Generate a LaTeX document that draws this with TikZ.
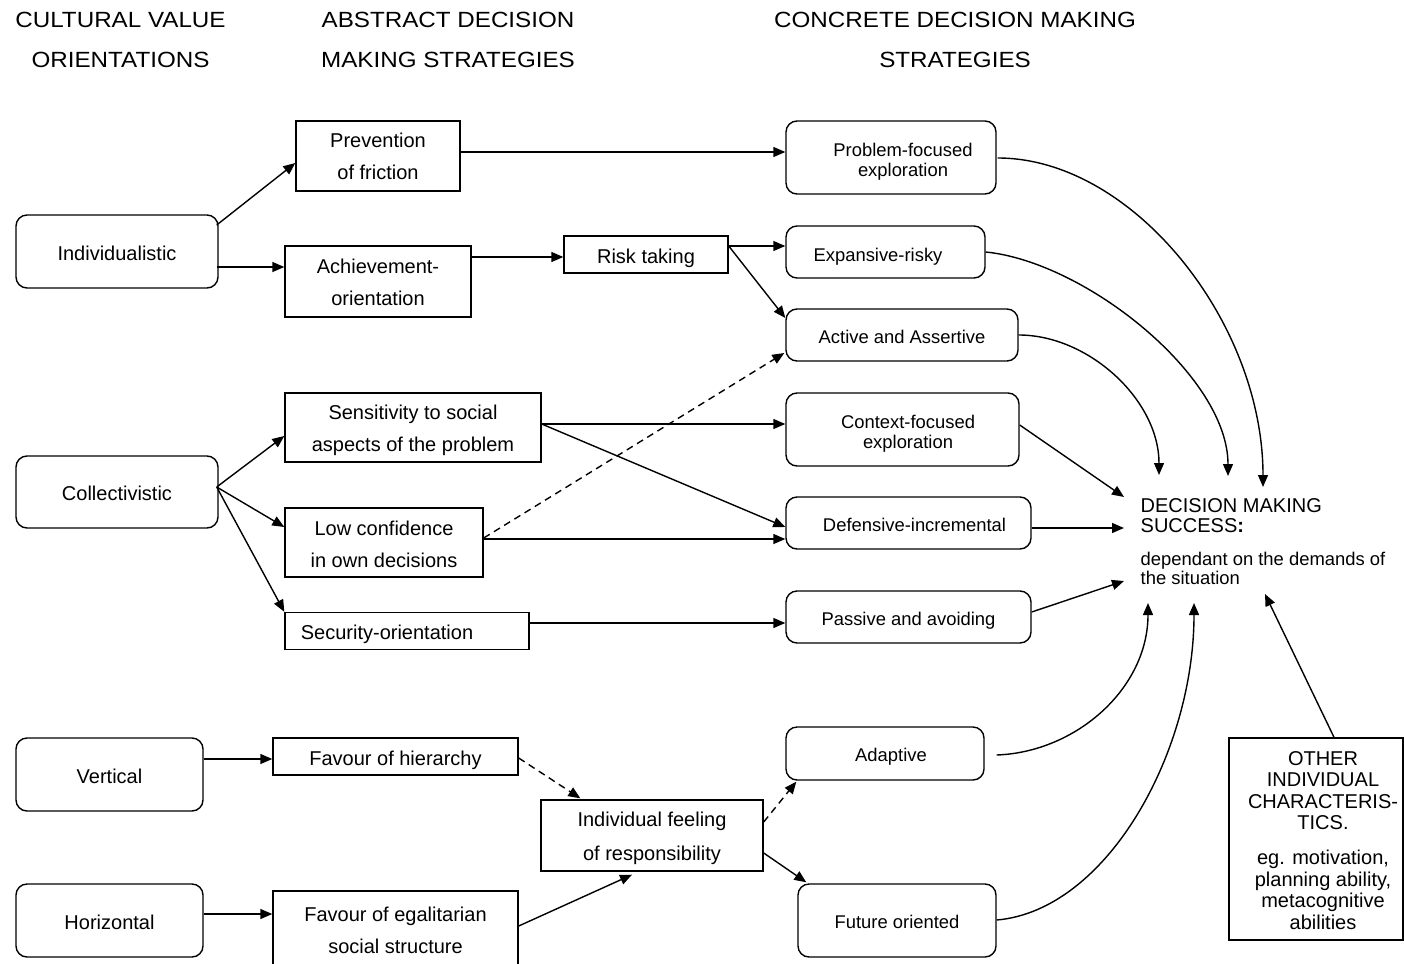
\documentclass[tikz,border=0pt]{standalone}
\usepackage{fontspec}
\setmainfont{Liberation Sans}
\newfontfamily\hdfont[FakeStretch=1.1]{Liberation Sans}
\usetikzlibrary{arrows.meta,calc}
\begin{document}
\begin{tikzpicture}[x=1pt,y=-1pt,
  line width=1.4pt,
  >={Triangle[length=12pt,width=10pt]},
  rbox/.style={draw, rounded corners=11pt, inner sep=0pt, line width=1.4pt},
  sbox/.style={draw, inner sep=0pt, line width=1.4pt},
  ft/.style={font=\fontsize{20pt}{32pt}\selectfont, align=center, inner sep=0pt},
  fs/.style={font=\fontsize{18.4pt}{20pt}\selectfont, align=center, inner sep=0pt},
  one/.style={text height=17.3pt, text depth=0pt},
  ones/.style={text height=16.2pt, text depth=0pt},
  hd/.style={font=\hdfont\fontsize{22pt}{40pt}\selectfont, align=center, inner sep=0pt},
  conn/.style={->, line width=1.4pt},
  dconn/.style={->, line width=1.4pt, dash pattern=on 7pt off 5pt},
]
\useasboundingbox (0,0) rectangle (1404,963);

% headers
\node[hd] (h1) at (120.5,40) {CULTURAL VALUE\\ORIENTATIONS};
\node[hd] (h2) at (448,40) {ABSTRACT DECISION\\MAKING STRATEGIES};
\node[hd] (h3) at (955,40) {CONCRETE DECISION MAKING\\STRATEGIES};

% cultural value orientations
\node[rbox, ft, one, minimum width=202pt, minimum height=73pt] (ind) at (117,251.5) {Individualistic};
\node[rbox, ft, one, minimum width=202pt, minimum height=72pt] (col) at (117,492) {Collectivistic};
\node[rbox, ft, one, minimum width=187pt, minimum height=73pt] (ver) at (109.5,774.5) {Vertical};
\node[rbox, ft, one, minimum width=187pt, minimum height=73pt] (hor) at (109.5,920.5) {Horizontal};

% abstract strategies
\node[sbox, ft, minimum width=164pt, minimum height=70pt] (prev) at (378,156) {Prevention\\of friction};
\node[sbox, minimum width=186pt, minimum height=71pt] (ach) at (378,281.5) {};
\node[ft] (ach-t) at (378,282.5) {Achievement-\\orientation};
\node[sbox, ft, one, minimum width=164pt, minimum height=37pt] (risk) at (646,254.5) {Risk taking};
\node[sbox, minimum width=256pt, minimum height=69pt] (sens) at (413,427.5) {};
\node[ft] (sens-t) at (413,430.5) {Sensitivity to social\\aspects of the problem};
\node[sbox, minimum width=198pt, minimum height=69pt] (low) at (384,542.5) {};
\node[ft] (low-t) at (384,544) {Low confidence\\in own decisions};
\node[sbox, minimum width=244pt, minimum height=37pt] (sec) at (407,631) {};
\node[ft, one] (sec-t) at (387,631) {Security-orientation};
\node[sbox, ft, one, minimum width=245pt, minimum height=37pt] (hier) at (395.5,756.5) {Favour of hierarchy};
\node[sbox, minimum width=245pt, minimum height=76pt] (egal) at (395.5,929) {};
\node[ft] (egal-t) at (395.5,930) {Favour of egalitarian\\social structure};
\node[sbox, minimum width=222pt, minimum height=71pt] (feel) at (652,835.5) {};
\node[ft, font=\fontsize{20pt}{34pt}\selectfont] (feel-t) at (652,838) {Individual feeling\\of responsibility};

% concrete strategies
\node[rbox, minimum width=210pt, minimum height=73pt] (pfe) at (891,157.5) {};
\node[fs] (pfe-t) at (903,161.5) {Problem-focused\\exploration};
\node[rbox, minimum width=199pt, minimum height=52pt] (exp) at (885.5,252) {};
\node[fs, ones] (exp-t) at (878,253) {Expansive-risky};
\node[rbox, fs, ones, minimum width=232pt, minimum height=52pt] (act) at (902,335) {Active and Assertive};
\node[rbox, minimum width=233pt, minimum height=73pt] (ctx) at (902.5,429.5) {};
\node[fs] (ctx-t) at (908,433.5) {Context-focused\\exploration};
\node[rbox, minimum width=245pt, minimum height=52pt] (def) at (908.5,523) {};
\node[fs, ones] (def-t) at (914.5,523.5) {Defensive-incremental};
\node[rbox, fs, ones, minimum width=245pt, minimum height=52pt] (pas) at (908.5,617) {Passive and avoiding};
\node[rbox, minimum width=198pt, minimum height=53pt] (ada) at (885,753.5) {};
\node[fs, ones] (ada-t) at (891,753.5) {Adaptive};
\node[rbox, fs, ones, minimum width=198pt, minimum height=73pt] (fut) at (897,920.5) {Future oriented};

% outcome
\node[anchor=west, inner sep=0pt, align=left, font=\fontsize{20pt}{20pt}\selectfont] (dms) at (1140,516) {DECISION MAKING\\SUCCESS\textbf{:}};
\node[anchor=west, inner sep=0pt, align=left, font=\fontsize{18.4pt}{19.5pt}\selectfont] (dep) at (1140,568.5) {dependant on the demands of\\the situation};
\node[sbox, minimum width=174pt, minimum height=202pt] (oth) at (1316,839) {};
\node[align=center, inner sep=0pt, font=\fontsize{20pt}{21.5pt}\selectfont] (oth-t) at (1323,840.5) {OTHER\\INDIVIDUAL\\CHARACTERIS-\\TICS.\\[13.5pt]eg. motivation,\\planning ability,\\metacognitive\\abilities};

% arrow end points around the outcome
\coordinate (s1) at (1263,487);
\coordinate (s2) at (1228,476);
\coordinate (s3) at (1159,475);
\coordinate (s4) at (1124,497);
\coordinate (s5) at (1124,528);
\coordinate (s6) at (1124,581);
\coordinate (s7) at (1148,603);
\coordinate (s8) at (1194,603);
\coordinate (s9) at (1265,594);

% connectors: cultural -> abstract
\draw[conn] ($(ind.east)+(-2,-26.5)$) -- ($(prev.west)+(0,7)$);
\draw[conn] ($(ind.east)+(-2,15.5)$) -- ($(ach.west)+(0,-14.5)$);
\draw[conn] ($(col.east)+(-2,-5)$) -- ($(sens.west)+(0,8.5)$);
\draw[conn] ($(col.east)+(-2,-5)$) -- ($(low.west)+(0,-15.5)$);
\draw[conn] ($(col.east)+(-2,-5)$) -- (sec.north west);
\draw[conn] ($(ver.east)+(0,-15.5)$) -- ($(hier.west)+(0,2.5)$);
\draw[conn] ($(hor.east)+(0,-6.5)$) -- ($(egal.west)+(0,-15)$);

% abstract -> concrete
\draw[conn] ($(prev.east)+(0,-4)$) -- ($(pfe.west)+(0,-5.5)$);
\draw[conn] ($(ach.east)+(0,-24.5)$) -- ($(risk.west)+(0,2.5)$);
\draw[conn] ($(risk.east)+(0,-8.5)$) -- ($(exp.west)+(0,-6)$);
\draw[conn] ($(risk.east)+(0,-8.5)$) -- ($(act.west)+(0,-17)$);
\draw[conn] ($(sens.east)+(0,-3.5)$) -- ($(ctx.west)+(0,-5.5)$);
\draw[conn] ($(sens.east)+(0,-3.5)$) -- ($(def.west)+(0,4)$);
\draw[conn] ($(low.east)+(0,-3.5)$) -- ($(def.west)+(0,16)$);
\draw[dconn] ($(low.east)+(0,-4.5)$) -- ($(act.west)+(-1,18)$);
\draw[conn] ($(sec.east)+(0,-8)$) -- ($(pas.west)+(0,6)$);
\draw[dconn] ($(hier.east)+(0,1.5)$) -- ($(feel.north west)+(40,-1)$);
\draw[conn] ($(egal.east)+(0,-3)$) -- ($(feel.south)+(-20,3)$);
\draw[dconn] ($(feel.east)+(0,-13.5)$) -- ($(ada.south west)+(11,1)$);
\draw[conn] ($(feel.east)+(0,17.5)$) -- ($(fut.north west)+(9,-1)$);

% concrete -> outcome
\draw[conn] ($(pfe.east)+(1,0.5)$) .. controls ($(pfe.east)+(136,0.5)$) and ($(s1)+(0,-165)$) .. (s1);
\draw[conn] (exp.east) .. controls ($(exp.east)+(100,10)$) and ($(s2)+(0,-100)$) .. (s2);
\draw[conn] (act.east) .. controls ($(act.east)+(70,0)$) and ($(s3)+(0,-75)$) .. (s3);
\draw[conn] ($(ctx.east)+(0,-4.5)$) -- (s4);
\draw[conn] ($(def.east)+(0,5)$) -- (s5);
\draw[conn] ($(pas.east)+(0,-5)$) -- (s6);
\draw[conn] ($(ada.east)+(12,1.5)$) .. controls ($(ada.east)+(92,-1.5)$) and ($(s7)+(0,85)$) .. (s7);
\draw[conn] ($(fut.east)+(0,-0.5)$) .. controls ($(fut.east)+(110,-10)$) and ($(s8)+(0,150)$) .. (s8);
\draw[conn] ($(oth.north)+(18,0)$) -- (s9);
\end{tikzpicture}
\end{document}
